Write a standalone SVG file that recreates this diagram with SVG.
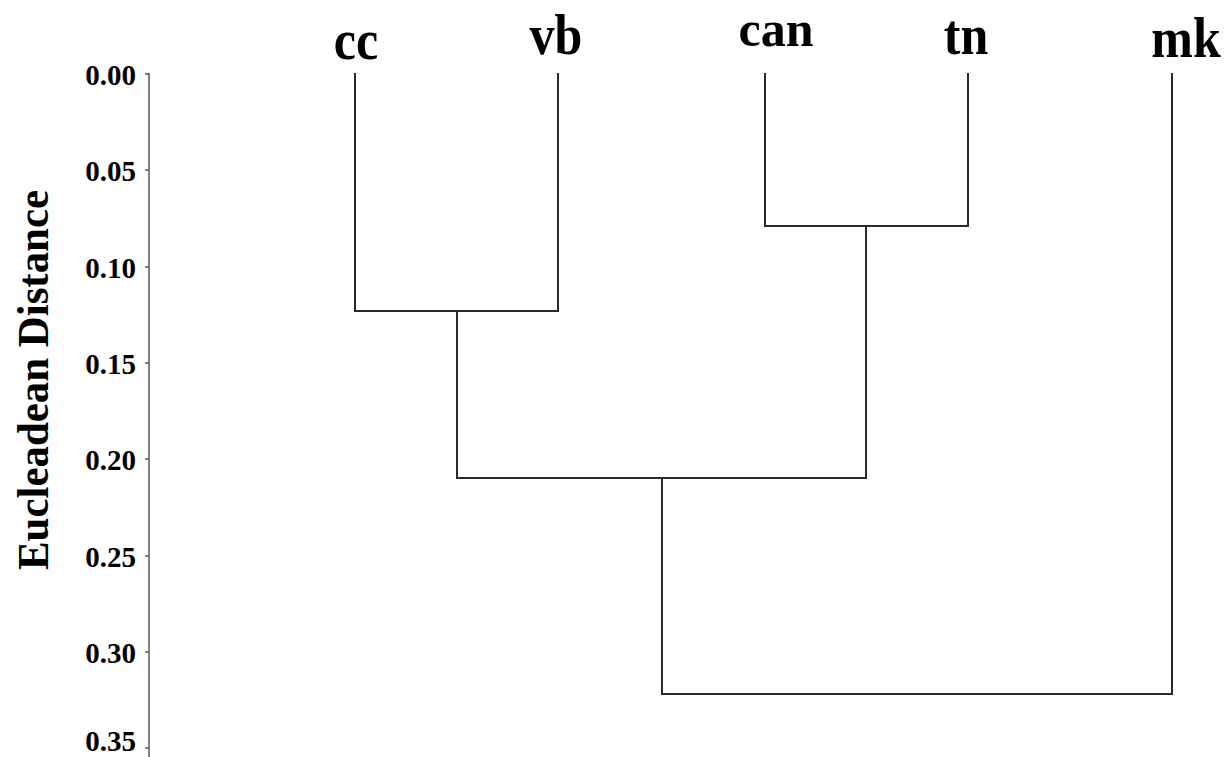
<svg xmlns="http://www.w3.org/2000/svg" width="1232" height="757" viewBox="0 0 1232 757">
  <style>
    .leaf { font-family: "Liberation Serif", "Times New Roman", serif; font-weight: bold; font-size: 50px; fill: #000; text-anchor: middle; }
    .tick-label { font-family: "Liberation Serif", "Times New Roman", serif; font-weight: bold; font-size: 29px; fill: #000; text-anchor: end; }
    .axis-title { font-family: "Liberation Serif", "Times New Roman", serif; font-weight: bold; font-size: 44px; fill: #000; text-anchor: middle; }
    .axis { stroke: #555; stroke-width: 1.5; fill: none; }
    .branch { stroke: #2a2a2a; stroke-width: 2; fill: none; }
  </style>
  <rect width="1232" height="757" fill="#fff"/>

  <!-- distance axis -->
  <g id="axis">
    <line class="axis" x1="149" y1="73" x2="149" y2="757"/>
    <path class="axis" d="M145 74H149M145 170H149M145 267H149M145 363H149M145 459H149M145 556H149M145 652H149M145 748H149"/>
    <text class="tick-label" x="136" y="85">0.00</text>
    <text class="tick-label" x="136" y="181">0.05</text>
    <text class="tick-label" x="136" y="278">0.10</text>
    <text class="tick-label" x="136" y="374">0.15</text>
    <text class="tick-label" x="136" y="470">0.20</text>
    <text class="tick-label" x="136" y="567">0.25</text>
    <text class="tick-label" x="136" y="663">0.30</text>
    <text class="tick-label" x="136" y="751">0.35</text>
    <text class="axis-title" transform="translate(48 380) rotate(-90)" textLength="380" lengthAdjust="spacingAndGlyphs">Eucleadean Distance</text>
  </g>

  <!-- leaves (slightly tall lettering) -->
  <g id="leaf-cc"><text class="leaf" transform="translate(356 59) scale(1 1.12)">cc</text></g>
  <g id="leaf-vb"><text class="leaf" transform="translate(556 54) scale(1 1.12)">vb</text></g>
  <g id="leaf-can"><text class="leaf" x="776" y="46">can</text></g>
  <g id="leaf-tn"><text class="leaf" transform="translate(966 54) scale(1 1.12)">tn</text></g>
  <g id="leaf-mk"><text class="leaf" transform="translate(1186 57) scale(1 1.12)">mk</text></g>

  <!-- merges -->
  <g id="connectors">
    <path class="branch" d="M355 73V311H558V73"/>
    <path class="branch" d="M765 73V226H968V73"/>
    <path class="branch" d="M457 311V478H866V226"/>
    <path class="branch" d="M662 478V694H1172V73"/>
  </g>
</svg>
